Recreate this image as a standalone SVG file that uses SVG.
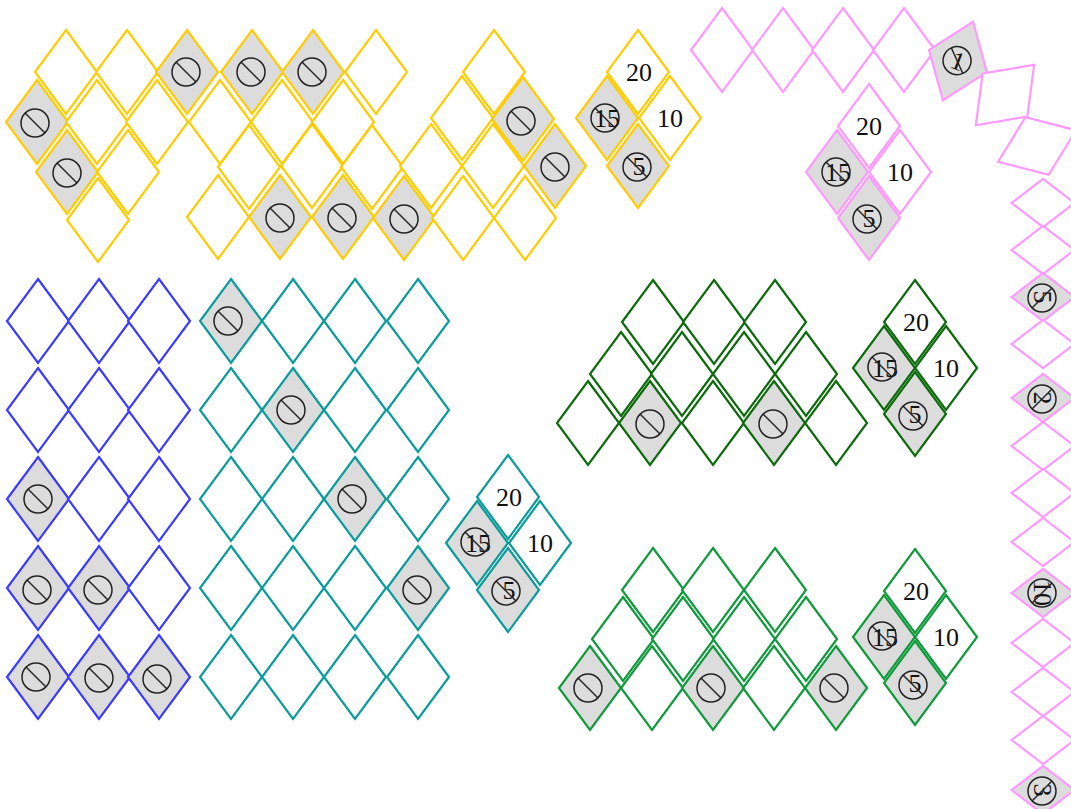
<svg xmlns="http://www.w3.org/2000/svg" xmlns:xlink="http://www.w3.org/1999/xlink" width="1071" height="809" viewBox="0 0 1071 809">
<style>
.d{stroke-width:2.2;stroke-linejoin:miter;fill:#fff}
.g{fill:#dcdcdc}
.y{stroke:#ffcc00}
.p{stroke:#ff99ff}
.b{stroke:#3b3bff}
.t{stroke:#0a9b9b}
.dg{stroke:#0b6b0b}
.gr{stroke:#0f9a3c}
.n{font-family:"Liberation Serif","Times New Roman",serif;font-size:26px;fill:#111;text-anchor:middle}
</style>
<defs>
<path id="dm" d="M0,-42L31,0L0,42L-31,0Z"/>
<path id="dh" d="M-31.5,0L0,-24L31.5,0L0,24Z"/>
<g id="ns" fill="none" stroke="#222" stroke-width="1.5"><circle r="14"/><line x1="-10" y1="-10" x2="10" y2="10"/></g>
</defs>
<rect width="1071" height="809" fill="#fff"/>
<g id="connectors"/>

<!-- yellow grid -->
<g id="yellow-grid">
<g id="ya1"><use href="#dm" class="d y" x="66" y="72"/></g>
<g id="ya2"><use href="#dm" class="d y" x="127" y="72"/></g>
<g id="ya3"><use href="#dm" class="d y g" x="187" y="72"/><use href="#ns" x="186" y="72"/></g>
<g id="ya4"><use href="#dm" class="d y g" x="252" y="72"/><use href="#ns" x="251" y="72"/></g>
<g id="ya5"><use href="#dm" class="d y g" x="313" y="72"/><use href="#ns" x="312" y="72"/></g>
<g id="ya6"><use href="#dm" class="d y" x="376" y="72"/></g>
<g id="ya7"><use href="#dm" class="d y" x="494" y="72"/></g>
<g id="yb1"><use href="#dm" class="d y g" x="37" y="122"/><use href="#ns" x="35" y="123"/></g>
<g id="yb2"><use href="#dm" class="d y" x="97" y="122"/></g>
<g id="yb3"><use href="#dm" class="d y" x="157" y="122"/></g>
<g id="yb4"><use href="#dm" class="d y" x="220" y="122"/></g>
<g id="yb5"><use href="#dm" class="d y" x="282" y="122"/></g>
<g id="yb6"><use href="#dm" class="d y" x="343" y="122"/></g>
<g id="yb7"><use href="#dm" class="d y" x="462" y="118"/></g>
<g id="yb8"><use href="#dm" class="d y g" x="523" y="119"/><use href="#ns" x="521" y="121"/></g>
<g id="yc1"><use href="#dm" class="d y g" x="67" y="172"/><use href="#ns" x="67" y="173"/></g>
<g id="yc2"><use href="#dm" class="d y" x="128" y="172"/></g>
<g id="yc3"><use href="#dm" class="d y" x="249" y="167"/></g>
<g id="yc4"><use href="#dm" class="d y" x="312" y="166"/></g>
<g id="yc5"><use href="#dm" class="d y" x="372" y="167"/></g>
<g id="yc6"><use href="#dm" class="d y" x="431" y="166"/></g>
<g id="yc7"><use href="#dm" class="d y" x="493" y="166"/></g>
<g id="yc8"><use href="#dm" class="d y g" x="555" y="166"/><use href="#ns" x="555" y="167"/></g>
<g id="yd1"><use href="#dm" class="d y" x="98" y="220"/></g>
<g id="yd2"><use href="#dm" class="d y" x="218" y="217"/></g>
<g id="yd3"><use href="#dm" class="d y g" x="280" y="217"/><use href="#ns" x="280" y="218"/></g>
<g id="yd4"><use href="#dm" class="d y g" x="343" y="217"/><use href="#ns" x="342" y="218"/></g>
<g id="yd5"><use href="#dm" class="d y g" x="404" y="218"/><use href="#ns" x="404" y="219"/></g>
<g id="yd6"><use href="#dm" class="d y" x="463" y="218"/></g>
<g id="yd7"><use href="#dm" class="d y" x="525" y="218"/></g>
</g>

<!-- yellow key -->
<g id="yellow-key">
<g id="yk20"><use href="#dm" class="d y" x="638" y="72"/><text class="n" x="639" y="81">20</text></g>
<g id="yk10"><use href="#dm" class="d y" x="670" y="118"/><text class="n" x="670" y="127">10</text></g>
<g id="yk15"><use href="#dm" class="d y g" x="607" y="118"/><text class="n" x="607" y="127">15</text><use href="#ns" x="605" y="118"/></g>
<g id="yk5"><use href="#dm" class="d y g" x="638" y="166"/><text class="n" x="639" y="175">5</text><use href="#ns" x="637" y="167"/></g>
</g>

<!-- pink chain -->
<g id="pink-chain">
<g id="pa1"><use href="#dm" class="d p" x="722" y="50"/></g>
<g id="pa2"><use href="#dm" class="d p" x="783" y="50"/></g>
<g id="pa3"><use href="#dm" class="d p" x="843" y="50"/></g>
<g id="pa4"><use href="#dm" class="d p" x="904" y="50"/></g>
<g id="pt1" transform="translate(958,61) rotate(21)"><use href="#dm" class="d p g"/><text class="n" x="0" y="9">1</text><use href="#ns" x="-1" y="0"/></g>
<g id="pt2" transform="translate(1005,95) rotate(44)"><use href="#dm" class="d p"/></g>
<g id="pt3" transform="translate(1037,146) rotate(68)"><use href="#dm" class="d p"/></g>
<g id="pc1"><use href="#dh" class="d p" x="1043" y="203"/></g>
<g id="pc2"><use href="#dh" class="d p" x="1043" y="250"/></g>
<g id="pc3" transform="translate(1043,297)"><use href="#dh" class="d p g"/><g transform="rotate(90)"><text class="n" x="0" y="9">5</text><use href="#ns" x="1" y="1"/></g></g>
<g id="pc4"><use href="#dh" class="d p" x="1043" y="344"/></g>
<g id="pc5" transform="translate(1043,398)"><use href="#dh" class="d p g"/><g transform="rotate(90)"><text class="n" x="0" y="9">2</text><use href="#ns" x="1" y="1"/></g></g>
<g id="pc6"><use href="#dh" class="d p" x="1043" y="446"/></g>
<g id="pc7"><use href="#dh" class="d p" x="1043" y="493"/></g>
<g id="pc8"><use href="#dh" class="d p" x="1043" y="542"/></g>
<g id="pc9" transform="translate(1043,593)"><use href="#dh" class="d p g"/><g transform="rotate(90)"><text class="n" x="0" y="9">10</text><use href="#ns" x="0" y="1"/></g></g>
<g id="pc10"><use href="#dh" class="d p" x="1043" y="643"/></g>
<g id="pc11"><use href="#dh" class="d p" x="1043" y="692"/></g>
<g id="pc12"><use href="#dh" class="d p" x="1043" y="740"/></g>
<g id="pc13" transform="translate(1043,790)"><use href="#dh" class="d p g"/><g transform="rotate(90)"><text class="n" x="0" y="9">3</text><use href="#ns" x="1" y="1"/></g></g>
</g>

<!-- pink key -->
<g id="pink-key">
<g id="pk20"><use href="#dm" class="d p" x="869" y="126"/><text class="n" x="869" y="135">20</text></g>
<g id="pk10"><use href="#dm" class="d p" x="900" y="172"/><text class="n" x="900" y="181">10</text></g>
<g id="pk15"><use href="#dm" class="d p g" x="837" y="172"/><text class="n" x="838" y="181">15</text><use href="#ns" x="836" y="172"/></g>
<g id="pk5"><use href="#dm" class="d p g" x="869" y="218"/><text class="n" x="869" y="227">5</text><use href="#ns" x="867" y="219"/></g>
</g>

<!-- blue grid -->
<g id="blue-grid">
<g id="b11"><use href="#dm" class="d b" x="38" y="321"/></g>
<g id="b12"><use href="#dm" class="d b" x="99" y="321"/></g>
<g id="b13"><use href="#dm" class="d b" x="159" y="321"/></g>
<g id="b21"><use href="#dm" class="d b" x="38" y="410"/></g>
<g id="b22"><use href="#dm" class="d b" x="99" y="410"/></g>
<g id="b23"><use href="#dm" class="d b" x="159" y="410"/></g>
<g id="b31"><use href="#dm" class="d b g" x="38" y="499"/><use href="#ns" x="38" y="499"/></g>
<g id="b32"><use href="#dm" class="d b" x="99" y="499"/></g>
<g id="b33"><use href="#dm" class="d b" x="159" y="499"/></g>
<g id="b41"><use href="#dm" class="d b g" x="38" y="588"/><use href="#ns" x="37" y="590"/></g>
<g id="b42"><use href="#dm" class="d b g" x="99" y="588"/><use href="#ns" x="98" y="590"/></g>
<g id="b43"><use href="#dm" class="d b" x="159" y="588"/></g>
<g id="b51"><use href="#dm" class="d b g" x="38" y="677"/><use href="#ns" x="36" y="677"/></g>
<g id="b52"><use href="#dm" class="d b g" x="99" y="677"/><use href="#ns" x="99" y="678"/></g>
<g id="b53"><use href="#dm" class="d b g" x="159" y="677"/><use href="#ns" x="157" y="679"/></g>
</g>

<!-- teal grid -->
<g id="teal-grid">
<g id="t11"><use href="#dm" class="d t g" x="231" y="321"/><use href="#ns" x="228" y="321"/></g>
<g id="t12"><use href="#dm" class="d t" x="293" y="321"/></g>
<g id="t13"><use href="#dm" class="d t" x="355" y="321"/></g>
<g id="t14"><use href="#dm" class="d t" x="418" y="321"/></g>
<g id="t21"><use href="#dm" class="d t" x="231" y="410"/></g>
<g id="t22"><use href="#dm" class="d t g" x="293" y="410"/><use href="#ns" x="291" y="410"/></g>
<g id="t23"><use href="#dm" class="d t" x="355" y="410"/></g>
<g id="t24"><use href="#dm" class="d t" x="418" y="410"/></g>
<g id="t31"><use href="#dm" class="d t" x="231" y="499"/></g>
<g id="t32"><use href="#dm" class="d t" x="293" y="499"/></g>
<g id="t33"><use href="#dm" class="d t g" x="355" y="499"/><use href="#ns" x="352" y="499"/></g>
<g id="t34"><use href="#dm" class="d t" x="418" y="499"/></g>
<g id="t41"><use href="#dm" class="d t" x="231" y="588"/></g>
<g id="t42"><use href="#dm" class="d t" x="293" y="588"/></g>
<g id="t43"><use href="#dm" class="d t" x="355" y="588"/></g>
<g id="t44"><use href="#dm" class="d t g" x="418" y="588"/><use href="#ns" x="417" y="590"/></g>
<g id="t51"><use href="#dm" class="d t" x="231" y="677"/></g>
<g id="t52"><use href="#dm" class="d t" x="293" y="677"/></g>
<g id="t53"><use href="#dm" class="d t" x="355" y="677"/></g>
<g id="t54"><use href="#dm" class="d t" x="418" y="677"/></g>
</g>

<!-- teal key -->
<g id="teal-key">
<g id="tk20"><use href="#dm" class="d t" x="508" y="497"/><text class="n" x="509" y="506">20</text></g>
<g id="tk10"><use href="#dm" class="d t" x="540" y="543"/><text class="n" x="540" y="552">10</text></g>
<g id="tk15"><use href="#dm" class="d t g" x="477" y="543"/><text class="n" x="478" y="552">15</text><use href="#ns" x="475" y="542"/></g>
<g id="tk5"><use href="#dm" class="d t g" x="508" y="590"/><text class="n" x="509" y="599">5</text><use href="#ns" x="506" y="591"/></g>
</g>

<!-- dark green grid -->
<g id="darkgreen-grid">
<g id="dg11"><use href="#dm" class="d dg" x="653" y="322"/></g>
<g id="dg12"><use href="#dm" class="d dg" x="714" y="322"/></g>
<g id="dg13"><use href="#dm" class="d dg" x="775" y="322"/></g>
<g id="dg21"><use href="#dm" class="d dg" x="621" y="374"/></g>
<g id="dg22"><use href="#dm" class="d dg" x="682" y="374"/></g>
<g id="dg23"><use href="#dm" class="d dg" x="744" y="374"/></g>
<g id="dg24"><use href="#dm" class="d dg" x="806" y="374"/></g>
<g id="dg31"><use href="#dm" class="d dg" x="588" y="423"/></g>
<g id="dg32"><use href="#dm" class="d dg g" x="650" y="423"/><use href="#ns" x="650" y="424"/></g>
<g id="dg33"><use href="#dm" class="d dg" x="713" y="423"/></g>
<g id="dg34"><use href="#dm" class="d dg g" x="774" y="423"/><use href="#ns" x="773" y="424"/></g>
<g id="dg35"><use href="#dm" class="d dg" x="836" y="423"/></g>
</g>

<!-- dark green key -->
<g id="darkgreen-key">
<g id="dk20"><use href="#dm" class="d dg" x="915" y="322"/><text class="n" x="916" y="331">20</text></g>
<g id="dk10"><use href="#dm" class="d dg" x="946" y="368"/><text class="n" x="946" y="377">10</text></g>
<g id="dk15"><use href="#dm" class="d dg g" x="884" y="368"/><text class="n" x="885" y="377">15</text><use href="#ns" x="882" y="367"/></g>
<g id="dk5"><use href="#dm" class="d dg g" x="915" y="414"/><text class="n" x="915" y="423">5</text><use href="#ns" x="913" y="416"/></g>
</g>

<!-- green grid -->
<g id="green-grid">
<g id="gr11"><use href="#dm" class="d gr" x="653" y="590"/></g>
<g id="gr12"><use href="#dm" class="d gr" x="713" y="590"/></g>
<g id="gr13"><use href="#dm" class="d gr" x="775" y="590"/></g>
<g id="gr21"><use href="#dm" class="d gr" x="623" y="639"/></g>
<g id="gr22"><use href="#dm" class="d gr" x="683" y="639"/></g>
<g id="gr23"><use href="#dm" class="d gr" x="744" y="639"/></g>
<g id="gr24"><use href="#dm" class="d gr" x="806" y="639"/></g>
<g id="gr31"><use href="#dm" class="d gr g" x="590" y="688"/><use href="#ns" x="588" y="688"/></g>
<g id="gr32"><use href="#dm" class="d gr" x="652" y="688"/></g>
<g id="gr33"><use href="#dm" class="d gr g" x="713" y="688"/><use href="#ns" x="711" y="688"/></g>
<g id="gr34"><use href="#dm" class="d gr" x="774" y="688"/></g>
<g id="gr35"><use href="#dm" class="d gr g" x="836" y="688"/><use href="#ns" x="834" y="688"/></g>
</g>

<!-- green key -->
<g id="green-key">
<g id="gk20"><use href="#dm" class="d gr" x="915" y="591"/><text class="n" x="916" y="600">20</text></g>
<g id="gk10"><use href="#dm" class="d gr" x="946" y="637"/><text class="n" x="946" y="646">10</text></g>
<g id="gk15"><use href="#dm" class="d gr g" x="884" y="637"/><text class="n" x="885" y="646">15</text><use href="#ns" x="882" y="636"/></g>
<g id="gk5"><use href="#dm" class="d gr g" x="915" y="683"/><text class="n" x="915" y="692">5</text><use href="#ns" x="913" y="685"/></g>
</g>
</svg>
